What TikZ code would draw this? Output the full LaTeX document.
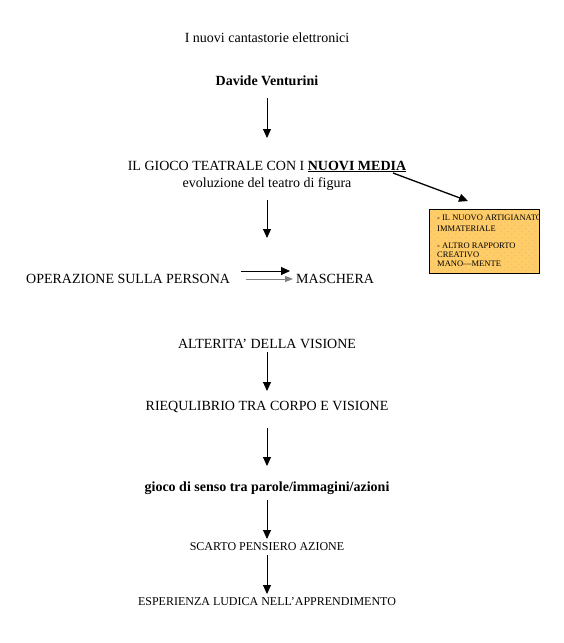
\documentclass[tikz,border=0pt]{standalone}
\usepackage{fontspec}
\setmainfont{Liberation Serif}
\usetikzlibrary{arrows.meta,patterns.meta}
\definecolor{boxfill}{HTML}{FFCC66}
\definecolor{dotblue}{HTML}{9AA8D8}
\tikzdeclarepattern{
  name=sparsedots,
  type=uncolored,
  bounding box={(0,0) and (7pt,6pt)},
  tile size={(7pt,6pt)},
  code={
    \fill (1pt,1pt) circle (0.45pt);
    \fill (4.5pt,4pt) circle (0.45pt);
  }
}
\tikzset{
  txt/.style={anchor=base, inner sep=0pt, font=\fontsize{14}{16}\selectfont},
  small/.style={anchor=base, inner sep=0pt, font=\fontsize{12}{14}\selectfont},
  tiny/.style={anchor=base west, inner sep=0pt, font=\fontsize{8.5}{9}\selectfont},
  arr/.style={-{Triangle[width=8pt,length=9pt]}, line width=0.9pt},
  grayarr/.style={-{Triangle[width=6pt,length=8pt]}, line width=0.8pt, draw=gray, gray},
}
\begin{document}
\begin{tikzpicture}[x=1pt,y=-1pt]
\useasboundingbox (0,0) rectangle (563,643);

\node[txt] (t1) at (267,42) {I nuovi cantastorie elettronici};
\node[txt, font=\fontsize{14}{16}\selectfont\bfseries] (t2) at (267,85) {Davide Venturini};
\node[txt] (t3) at (267,170) {IL GIOCO TEATRALE CON I \textbf{\underline{NUOVI MEDIA}}};
\node[txt] (t4) at (267,187) {evoluzione del teatro di figura};
\node[txt, anchor=base west] (t5) at (26,283) {OPERAZIONE SULLA PERSONA};
\node[txt, anchor=base west] (t6) at (296,283) {MASCHERA};
\node[txt] (t7) at (267,348) {ALTERITA' DELLA VISIONE};
\node[txt] (t8) at (267,410) {RIEQULIBRIO TRA CORPO E VISIONE};
\node[txt, font=\fontsize{14}{16}\selectfont\bfseries] (t9) at (267,491) {gioco di senso tra parole/immagini/azioni};
\node[small] (t10) at (267,550) {SCARTO PENSIERO AZIONE};
\node[small] (t11) at (267,605) {ESPERIENZA LUDICA NELL'APPRENDIMENTO};

% box
\node[fill=boxfill, minimum width=109pt, minimum height=63pt, inner sep=0pt] (box) at (484.5,241.5) {};
\fill[pattern=sparsedots, pattern color=dotblue] (box.north west) rectangle (box.south east);
\draw[line width=0.9pt] (box.north west) rectangle (box.south east);
\begin{scope}
\clip ([xshift=1pt,yshift=-1pt]box.north west) rectangle ([xshift=-1pt,yshift=1pt]box.south east);
\node[tiny] (b1) at (437,220) {- IL NUOVO ARTIGIANATO};
\node[tiny] (b2) at (437,231) {IMMATERIALE};
\node[tiny] (b3) at (437,248) {- ALTRO RAPPORTO};
\node[tiny] (b4) at (437,257) {CREATIVO};
\node[tiny] (b5) at (437,266.5) {MANO---MENTE};
\end{scope}

% connectors
\coordinate (a1s) at (267,98);  \coordinate (a1e) at (267,138);
\coordinate (a2s) at (267,200); \coordinate (a2e) at (267,238);
\coordinate (a3s) at (267,352); \coordinate (a3e) at (267,391);
\coordinate (a4s) at (267,428); \coordinate (a4e) at (267,466);
\coordinate (a5s) at (267,500); \coordinate (a5e) at (267,539);
\coordinate (a6s) at (267,555); \coordinate (a6e) at (267,594);
\draw[arr] (a1s) -- (a1e);
\draw[arr] (a2s) -- (a2e);
\draw[arr] (a3s) -- (a3e);
\draw[arr] (a4s) -- (a4e);
\draw[arr] (a5s) -- (a5e);
\draw[arr] (a6s) -- (a6e);

\coordinate (d1) at (393,173);
\coordinate (d2) at (468,201);
\draw[arr, line width=1.3pt] (d1) -- (d2);

\coordinate (m1) at (241,271); \coordinate (m2) at (290,271);
\draw[arr] (m1) -- (m2);
\coordinate (g1) at (246,279); \coordinate (g2) at (293,279);
\draw[grayarr] (g1) -- (g2);
\end{tikzpicture}
\end{document}
